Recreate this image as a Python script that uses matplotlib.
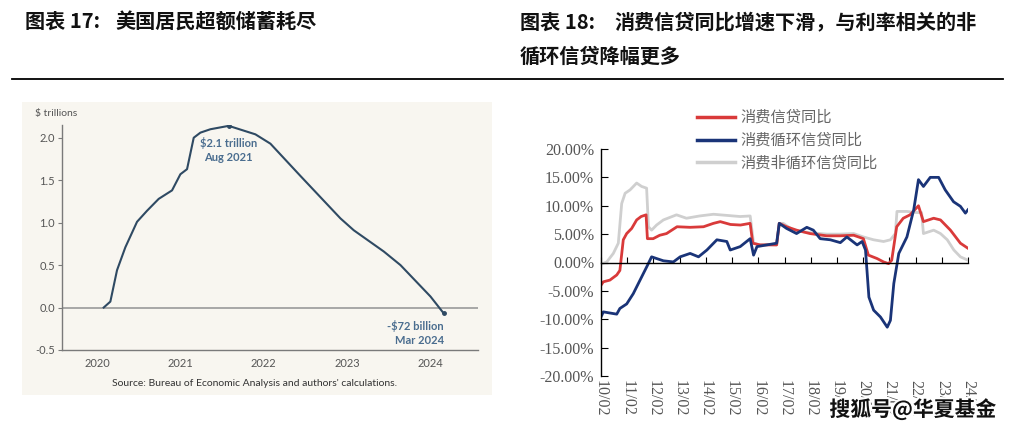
import numpy as np
import matplotlib.pyplot as plt
import matplotlib.patheffects as pe
from matplotlib.patches import Rectangle

# ---- left chart: US excess savings ($ trillions)
sav_year = [2020.08, 2020.16, 2020.24, 2020.34, 2020.48, 2020.60, 2020.74, 2020.90,
            2021.00, 2021.08, 2021.16, 2021.24, 2021.36, 2021.58, 2021.90, 2022.08,
            2022.44, 2022.92, 2023.08, 2023.44, 2023.64, 2024.00, 2024.16]
sav_val = [0.0, 0.07, 0.44, 0.71, 1.01, 1.14, 1.28, 1.38,
           1.57, 1.63, 2.00, 2.06, 2.10, 2.14, 2.04, 1.93,
           1.55, 1.05, 0.91, 0.66, 0.50, 0.13, -0.07]
sav_xticks = [2020, 2021, 2022, 2023, 2024]
sav_yticks = [-0.5, 0.0, 0.5, 1.0, 1.5, 2.0]

# ---- right chart: consumer credit YoY (%), x in years
red_t = [0, 0.09, 0.34, 0.60, 0.72, 0.85, 0.98, 1.17, 1.36, 1.53, 1.72, 1.77, 1.99,
         2.24, 2.50, 2.90, 3.40, 3.91, 4.29, 4.55, 4.94, 5.32, 5.69, 5.79, 6.07,
         6.70, 6.80, 7.08, 7.46, 7.97, 8.61, 9.11, 9.64, 10.01, 10.20, 10.53, 10.78,
         10.97, 11.09, 11.28, 11.53, 11.79, 12.11, 12.30, 12.69, 12.95, 13.33, 13.71, 14.0]
red_v = [-4.0, -3.4, -3.1, -2.2, -1.4, 4.0, 5.1, 6.0, 7.5, 8.1, 8.4, 4.2, 4.2,
         4.8, 5.1, 6.3, 6.2, 6.3, 6.9, 7.2, 6.7, 6.6, 6.9, 3.4, 3.1,
         3.1, 6.9, 6.3, 5.7, 5.1, 4.7, 4.7, 4.8, 4.2, 1.3, 0.7, 0.1,
         -0.2, 0.4, 6.3, 7.8, 8.4, 10.0, 7.2, 7.8, 7.5, 5.7, 3.4, 2.5]

blue_t = [0, 0.09, 0.34, 0.60, 0.72, 0.98, 1.23, 1.49, 1.74, 1.93, 2.12, 2.38, 2.76,
          3.02, 3.40, 3.72, 4.04, 4.42, 4.80, 4.93, 5.31, 5.69, 5.82, 5.95, 6.33,
          6.70, 6.80, 7.08, 7.46, 7.85, 8.10, 8.36, 8.75, 9.13, 9.38, 9.77, 9.96,
          10.09, 10.22, 10.40, 10.66, 10.92, 11.04, 11.17, 11.36, 11.67, 11.93, 12.11,
          12.30, 12.56, 12.88, 13.13, 13.45, 13.71, 13.90, 14.0]
blue_v = [-9.6, -8.7, -8.9, -9.1, -8.1, -7.3, -5.5, -3.1, -0.8, 1.0, 0.7, 0.3, 0.1,
          1.0, 1.6, 1.0, 2.2, 4.0, 3.7, 2.2, 2.8, 4.2, 1.3, 2.8, 3.1,
          3.4, 6.9, 6.0, 5.1, 6.2, 5.7, 4.2, 4.0, 3.5, 4.5, 3.1, 3.7,
          2.2, -6.1, -8.4, -9.6, -11.4, -10.2, -3.7, 1.6, 4.5, 9.3, 14.6,
          13.4, 15.0, 15.0, 12.8, 10.7, 9.9, 8.7, 9.3]

gray_t = [0, 0.22, 0.47, 0.66, 0.79, 0.92, 1.11, 1.36, 1.55, 1.74, 1.81, 1.93,
          2.12, 2.38, 2.88, 3.26, 3.76, 4.29, 4.80, 5.31, 5.69, 5.82, 6.07, 6.33,
          6.70, 6.80, 6.95, 7.33, 7.71, 8.10, 8.61, 9.11, 9.64, 10.01, 10.40, 10.78,
          11.04, 11.23, 11.29, 11.66, 12.04, 12.23, 12.30, 12.69, 12.95, 13.21, 13.46,
          13.71, 14.0]
gray_v = [-0.3, 0.1, 1.6, 3.4, 10.4, 12.2, 12.8, 14.0, 13.4, 13.1, 6.3, 5.7,
          6.6, 7.5, 8.4, 7.8, 8.2, 8.5, 8.3, 8.1, 8.2, 3.4, 3.1, 3.2,
          3.1, 6.9, 6.9, 5.7, 5.4, 5.2, 5.0, 5.0, 5.1, 4.5, 4.0, 3.7,
          4.0, 5.1, 9.0, 9.0, 8.8, 8.8, 5.1, 5.7, 5.1, 4.0, 2.2,
          1.0, 0.4]

credit_start = 2010.08
credit_labels = ['%02d/02' % y for y in range(10, 25)]
credit_yticks = [-20, -15, -10, -5, 0, 5, 10, 15, 20]
legend_names = ['消费信贷同比', '消费循环信贷同比', '消费非循环信贷同比']

cjk = ['Noto Sans CJK SC', 'DejaVu Sans']

fig = plt.figure(figsize=(10.17, 4.29), dpi=100)
fig.patch.set_facecolor('white')

# titles and rule
tkw = dict(family=cjk, fontsize=14.5, fontweight='bold', va='center', color='#111111')
fig.text(25 / 1017, 1 - 21 / 429, '图表 17:', **tkw)
fig.text(115 / 1017, 1 - 21 / 429, '美国居民超额储蓄耗尽', **tkw)
fig.text(520 / 1017, 1 - 22 / 429, '图表 18:', **tkw)
fig.text(614 / 1017, 1 - 22 / 429, '消费信贷同比增速下滑，与利率相关的非', **tkw)
fig.text(520 / 1017, 1 - 56 / 429, '循环信贷降幅更多', **tkw)
fig.add_artist(plt.Line2D([12 / 1017, 1003 / 1017], [1 - 79 / 429, 1 - 79 / 429],
                          color='black', lw=1.3))

# ---- left chart
fig.add_artist(Rectangle((22 / 1017, 1 - 395 / 429), 470 / 1017, 293 / 429,
                         facecolor='#f8f6f0', edgecolor='none', zorder=0))
ax1 = fig.add_axes([62 / 1017, 1 - 350 / 429, 416 / 1017, 225 / 429])
ax1.set_facecolor('none')
ax1.plot(sav_year, sav_val, color='#2f4a63', lw=1.5)
ax1.plot([sav_year[13], sav_year[-1]], [sav_val[13], sav_val[-1]], 'o',
         color='#2f4a63', ms=2.5)
ax1.axhline(0, color='#9a9a9a', lw=1.2, zorder=0)
ax1.set_xlim(2019.58, 2024.57)
ax1.set_ylim(-0.5, 2.15)
ax1.set_xticks(sav_xticks)
ax1.set_yticks(sav_yticks)
ax1.set_yticklabels(['%.1f' % v for v in sav_yticks])
for s in ['top', 'right']:
    ax1.spines[s].set_visible(False)
for s in ['left', 'bottom']:
    ax1.spines[s].set_color('#7a7a7a')
    ax1.spines[s].set_linewidth(1.0)
ax1.tick_params(axis='y', length=3, color='#7a7a7a', labelsize=8, labelcolor='#555555',
                pad=2)
ax1.tick_params(axis='x', length=0, labelsize=8, labelcolor='#555555', pad=6)
for lab in ax1.get_xticklabels() + ax1.get_yticklabels():
    lab.set_family('Lato')
ax1.text(-0.065, 1.03, '$ trillions', transform=ax1.transAxes, fontsize=7.5,
         color='#555555', family='Lato', va='bottom')
ax1.annotate('$2.1 trillion\nAug 2021', (sav_year[13], sav_val[13]),
             xytext=(0, -8), textcoords='offset points', ha='center', va='top',
             fontsize=8, fontweight='bold', color='#4a6d8f', family='Lato',
             linespacing=1.3)
ax1.annotate('-$72 billion\nMar 2024', (sav_year[-1], sav_val[-1]),
             xytext=(0, -5), textcoords='offset points', ha='right', va='top',
             fontsize=8, fontweight='bold', color='#4a6d8f', family='Lato',
             linespacing=1.3)
fig.text(255 / 1017, 1 - 384 / 429,
         "Source: Bureau of Economic Analysis and authors' calculations.",
         ha='center', va='center', fontsize=7.5, color='#333333', family='Lato')

# ---- right chart
ax2 = fig.add_axes([601 / 1017, 1 - 376 / 429, 367 / 1017, 227 / 429])
series = [(gray_t, gray_v, '#cfcfcf'), (red_t, red_v, '#d93a3a'),
          (blue_t, blue_v, '#1a3478')]
handles = {}
for t, v, c in series:
    handles[c], = ax2.plot([credit_start + x for x in t], v, color=c, lw=2.0)
ax2.set_xlim(credit_start, credit_start + 14)
ax2.set_ylim(-20, 20)
ax2.set_yticks(credit_yticks)
ax2.set_yticklabels(['%.2f%%' % v for v in credit_yticks])
ticks = [credit_start + i for i in range(len(credit_labels))]
ax2.set_xticks(ticks)
ax2.spines['bottom'].set_position(('data', 0))
for s in ['top', 'right']:
    ax2.spines[s].set_visible(False)
for s in ['left', 'bottom']:
    ax2.spines[s].set_color('black')
    ax2.spines[s].set_linewidth(1.0)
ax2.tick_params(axis='x', direction='in', length=4, labelbottom=False, color='black')
ax2.tick_params(axis='y', direction='in', length=5, labelsize=11.5, labelcolor='#555555',
                pad=5)
for lab in ax2.get_yticklabels():
    lab.set_family('Liberation Serif')
sec = ax2.secondary_xaxis('bottom')
sec.set_xticks(ticks)
sec.set_xticklabels(credit_labels)
sec.spines['bottom'].set_visible(False)
sec.tick_params(length=0, pad=3, labelsize=11.5, labelcolor='#555555', labelrotation=270)
for lab in sec.get_xticklabels():
    lab.set_family('Liberation Serif')
    lab.set_rotation(270)
    lab.set_va('top')
    lab.set_ha('center')

leg = ax2.legend([handles['#d93a3a'], handles['#1a3478'], handles['#cfcfcf']],
                 legend_names, loc='upper left', bbox_to_anchor=(0.262, 1.178),
                 frameon=False, handlelength=2.75, handletextpad=0.35,
                 labelspacing=0.42, borderaxespad=0, borderpad=0)
for txt in leg.get_texts():
    txt.set_family(cjk)
    txt.set_fontsize(11)
    txt.set_color('#666666')
for h in leg.get_lines():
    h.set_linewidth(2.5)

fig.text(913 / 1017, 1 - 409 / 429, '搜狐号@华夏基金', family=cjk, fontsize=15,
         fontweight='bold', color='#111111', ha='center', va='center',
         path_effects=[pe.withStroke(linewidth=3, foreground='white')])

fig.savefig('out.png', dpi=100)
